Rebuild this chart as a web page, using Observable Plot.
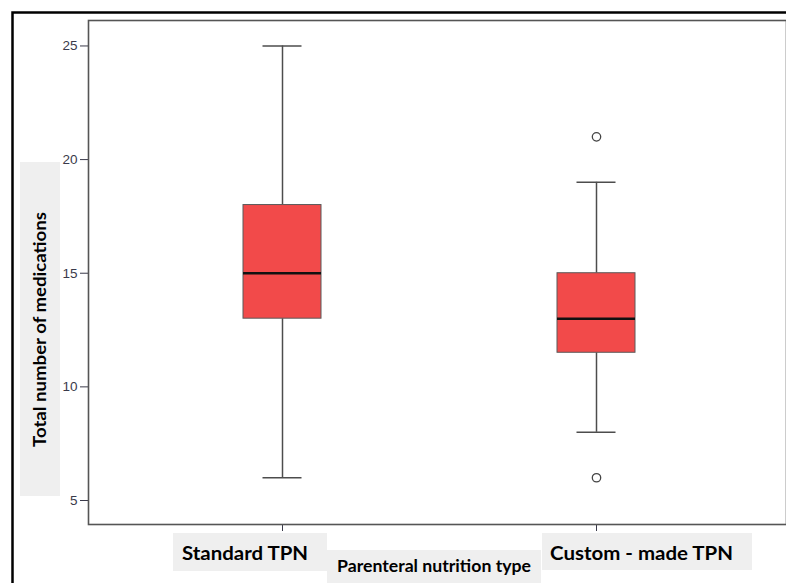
<!DOCTYPE html>
<html>
<head>
<meta charset="utf-8">
<script src="https://cdn.jsdelivr.net/npm/d3@7"></script>
<script src="https://cdn.jsdelivr.net/npm/@observablehq/plot@0.6"></script>
<style>
  html, body { margin: 0; padding: 0; background: #fff; overflow: hidden; }
  #wrap { position: relative; width: 786px; height: 583px; overflow: hidden; }
  #chart { position: absolute; left: 0; top: 0; width: 800px; }
  #chart svg { max-width: none !important; width: 800px !important; height: 583px !important; }
  #overlay { position: absolute; left: 0; top: 0; pointer-events: none; }
</style>
</head>
<body>
<div id="wrap">
  <div id="chart"></div>
  <svg id="overlay" width="786" height="583"></svg>
</div>
<script>
// ---- data ----
const groups = ["Standard TPN", "Custom - made TPN"];
const whiskerLow = [6, 8];
const q1 = [13, 11.5];
const median = [15, 13];
const q3 = [18, 15];
const whiskerHigh = [25, 19];
const outlierGroups = ["Custom - made TPN", "Custom - made TPN"];
const outlierValues = [21, 6];
const yTicks = [5, 10, 15, 20, 25];
const xTitle = "Parenteral nutrition type";
const yTitle = "Total number of medications";

const boxes = groups.map((g, i) => ({
  group: g, lo: whiskerLow[i], q1: q1[i], med: median[i], q3: q3[i], hi: whiskerHigh[i]
}));
const outliers = outlierGroups.map((g, i) => ({group: g, value: outlierValues[i]}));

const lineColor = "#4d4d4d";

const chart = Plot.plot({
  width: 800,
  height: 583,
  marginLeft: 88,
  marginRight: 14,
  marginTop: 20,
  marginBottom: 59,
  style: {fontFamily: "Liberation Sans, Arial, sans-serif", fontSize: "13.5px", color: "#3a3a4a", background: "transparent", maxWidth: "none"},
  x: {domain: groups, paddingInner: 0.752, paddingOuter: 0.484, align: 0.505, tickSize: 7, tickFormat: () => "", label: null},
  y: {domain: [3.944, 26.12], ticks: yTicks, tickSize: 8, tickPadding: 3, label: null},
  marks: [
    Plot.ruleX(boxes, {x: "group", y1: "lo", y2: "q1", stroke: lineColor, strokeWidth: 1.5}),
    Plot.ruleX(boxes, {x: "group", y1: "q3", y2: "hi", stroke: lineColor, strokeWidth: 1.5}),
    Plot.tickY(boxes, {x: "group", y: "lo", stroke: lineColor, strokeWidth: 1.5, insetLeft: 19.5, insetRight: 19.5}),
    Plot.tickY(boxes, {x: "group", y: "hi", stroke: lineColor, strokeWidth: 1.5, insetLeft: 19.5, insetRight: 19.5}),
    Plot.barY(boxes, {x: "group", y1: "q1", y2: "q3", fill: "#f24a4a", stroke: "#5a5a5a", strokeWidth: 1}),
    Plot.tickY(boxes, {x: "group", y: "med", stroke: "#111", strokeWidth: 2.5}),
    Plot.dot(outliers, {x: "group", y: "value", r: 4.2, fill: "#fff", stroke: "#444", strokeWidth: 1.3}),
    Plot.frame({stroke: "#555", strokeWidth: 1.6})
  ]
});
document.getElementById("chart").appendChild(chart);

// ---- annotation overlay: grey label boxes and outer frame ----
const ov = d3.select("#overlay");
ov.append("path")
  .attr("d", "M12.5,583 L12.5,12.5 L786,12.5")
  .attr("fill", "none").attr("stroke", "#000").attr("stroke-width", 2.5);

const grey = "#efefef";
function label(box, text, tx, ty, len, size) {
  ov.append("rect").attr("x", box[0]).attr("y", box[1]).attr("width", box[2]).attr("height", box[3]).attr("fill", grey);
  ov.append("text").attr("x", tx).attr("y", ty)
    .attr("font-family", "Lato, 'Open Sans', sans-serif").attr("font-weight", "bold")
    .attr("font-size", size).attr("fill", "#000")
    .attr("textLength", len).attr("lengthAdjust", "spacingAndGlyphs")
    .text(text);
}
label([173, 533, 154, 38], groups[0], 182, 560, 126, 19.5);
label([327, 550, 214, 40], xTitle, 337, 572, 194, 17.5);
label([542, 533, 210, 37], groups[1], 550, 560, 183, 19.5);

// rotated y title
ov.append("rect").attr("x", 20).attr("y", 162).attr("width", 40).attr("height", 334).attr("fill", grey);
ov.append("text")
  .attr("transform", "translate(46,447) rotate(-90)")
  .attr("font-family", "Lato, 'Open Sans', sans-serif").attr("font-weight", "bold")
  .attr("font-size", 16.5).attr("fill", "#000")
  .attr("textLength", 235).attr("lengthAdjust", "spacingAndGlyphs")
  .text(yTitle);
</script>
</body>
</html>
